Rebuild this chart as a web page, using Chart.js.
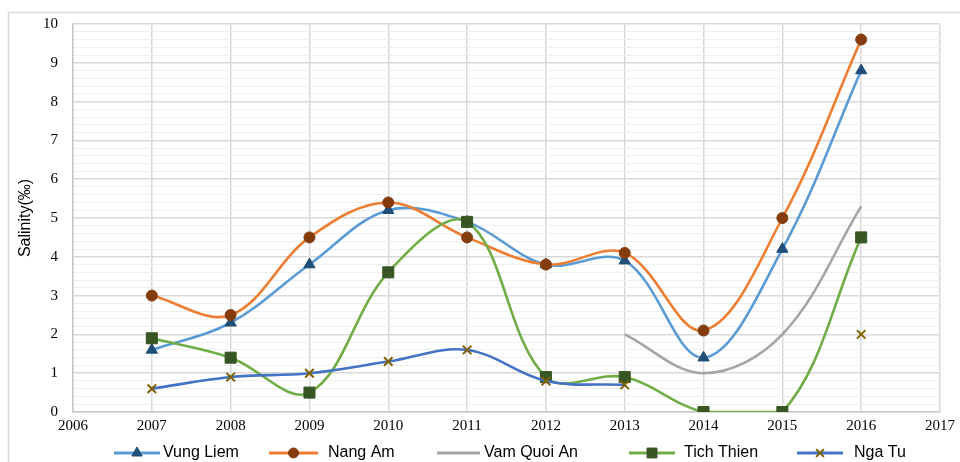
<!DOCTYPE html>
<html>
<head>
<meta charset="utf-8">
<script src="https://cdn.jsdelivr.net/npm/chart.js@4.4.1/dist/chart.umd.min.js"></script>
<style>
  html, body { margin: 0; padding: 0; background: #ffffff; }
  #wrap { width: 960px; height: 462px; position: relative; }
</style>
</head>
<body>
<div id="wrap"><canvas id="c" width="960" height="462"></canvas></div>
<script>
const years = [2007, 2008, 2009, 2010, 2011, 2012, 2013, 2014, 2015, 2016];
const vungLiem  = [1.6, 2.3, 3.8, 5.2, 4.9, 3.8, 3.9, 1.4, 4.2, 8.8];
const nangAm    = [3.0, 2.5, 4.5, 5.4, 4.5, 3.8, 4.1, 2.1, 5.0, 9.6];
const vamQuoiAn = [null, null, null, null, null, null, 2.0, 1.0, 2.0, 5.3];
const tichThien = [1.9, 1.4, 0.5, 3.6, 4.9, 0.9, 0.9, 0.0, 0.0, 4.5];
const ngaTu     = [0.6, 0.9, 1.0, 1.3, 1.6, 0.8, 0.7, null, null, 2.0];
const seriesNames = ['Vung Liem', 'Nang Am', 'Vam Quoi An', 'Tich Thien', 'Nga Tu'];
const xMin = 2006, xMax = 2017;
const yMin = 0, yMax = 10;
const yTitle = 'Salinity(\u2030)';

function pts(vals) { return years.map((y, i) => ({ x: y, y: vals[i] })); }

const styles = [
  { line: '#5B9BD5', mark: '#1F4E79', style: 'triangle', r: 6.5, lr: 6 },
  { line: '#ED7D31', mark: '#843C0C', style: 'circle', r: 5.5, lr: 5 },
  { line: '#A5A5A5', mark: '#A5A5A5', style: false, r: 0, lr: 0 },
  { line: '#70AD47', mark: '#375623', style: 'rect', r: 7.8, lr: 7 },
  { line: '#4472C4', mark: '#7F6000', style: 'crossRot', r: 6, lr: 5.5 }
];
const allVals = [vungLiem, nangAm, vamQuoiAn, tichThien, ngaTu];

const datasets = allVals.map((v, i) => ({
  label: seriesNames[i],
  data: pts(v),
  borderColor: styles[i].line,
  backgroundColor: styles[i].mark,
  borderWidth: 2.6,
  tension: 0.36,
  spanGaps: false,
  pointStyle: styles[i].style || 'circle',
  pointRadius: styles[i].style ? styles[i].r : 0,
  pointHoverRadius: styles[i].style ? styles[i].r : 0,
  pointBackgroundColor: styles[i].mark,
  pointBorderColor: styles[i].mark,
  pointBorderWidth: styles[i].style === 'crossRot' ? 2 : 1,
  order: 5 - i
}));

const frame = {
  id: 'frame',
  beforeDraw(chart) {
    const ctx = chart.ctx;
    ctx.save();
    ctx.fillStyle = '#ffffff';
    ctx.fillRect(0, 0, chart.width, chart.height);
    ctx.strokeStyle = '#d9d9d9';
    ctx.lineWidth = 1.5;
    ctx.strokeRect(8.5, 12.5, chart.width + 10, chart.height + 10);
    ctx.restore();
  }
};

const legendPos = [
  { x0: 114, x1: 160, tx: 163 },
  { x0: 269, x1: 318, tx: 328 },
  { x0: 437, x1: 480, tx: 484 },
  { x0: 629, x1: 675, tx: 684 },
  { x0: 797, x1: 843, tx: 854 }
];

const customLegend = {
  id: 'customLegend',
  afterDraw(chart) {
    const ctx = chart.ctx;
    const y = 453;
    ctx.save();
    seriesNames.forEach((name, i) => {
      const p = legendPos[i], s = styles[i];
      ctx.strokeStyle = s.line;
      ctx.lineWidth = 3;
      ctx.beginPath();
      ctx.moveTo(p.x0, y);
      ctx.lineTo(p.x1, y);
      ctx.stroke();
      if (s.style) {
        ctx.fillStyle = s.mark;
        ctx.strokeStyle = s.mark;
        ctx.lineWidth = s.style === 'crossRot' ? 2 : 1;
        Chart.helpers.drawPoint(ctx, {
          pointStyle: s.style, radius: s.lr, borderWidth: ctx.lineWidth, rotation: 0
        }, (p.x0 + p.x1) / 2, y);
      }
      ctx.fillStyle = '#000000';
      ctx.font = '16px "Liberation Sans", Arial, sans-serif';
      ctx.textBaseline = 'middle';
      ctx.textAlign = 'left';
      ctx.fillText(name, p.tx, y);
    });
    ctx.restore();
  }
};

function isInt(v) { return Math.abs(v - Math.round(v)) < 1e-6; }

new Chart(document.getElementById('c'), {
  type: 'line',
  data: { datasets },
  plugins: [frame, customLegend],
  options: {
    responsive: false,
    animation: false,
    devicePixelRatio: 1,
    layout: { padding: { left: 14, right: 14, top: 18, bottom: 20 } },
    plugins: { legend: { display: false }, tooltip: { enabled: false } },
    scales: {
      x: {
        type: 'linear',
        min: xMin, max: xMax,
        ticks: {
          stepSize: 1,
          color: '#000000',
          font: { family: '"Liberation Serif", "Times New Roman", serif', size: 15 },
          callback: v => String(v),
          padding: 5
        },
        grid: { color: '#d9d9d9', lineWidth: 1.5, drawTicks: false },
        border: { color: '#c8c8c8', width: 1.5 },
        afterFit: s => { s.height = 30; }
      },
      y: {
        min: yMin, max: yMax,
        ticks: {
          stepSize: 0.2,
          maxTicksLimit: 100,
          autoSkip: false,
          color: '#000000',
          font: { family: '"Liberation Serif", "Times New Roman", serif', size: 15 },
          callback: v => isInt(v) ? String(Math.round(v)) : '',
          padding: 15
        },
        grid: {
          color: c => isInt(c.tick.value) ? '#d9d9d9' : '#efefef',
          lineWidth: c => isInt(c.tick.value) ? 1.5 : 1,
          drawTicks: false
        },
        border: { color: '#c8c8c8', width: 1.5 },
        title: {
          display: true,
          text: yTitle,
          color: '#000000',
          font: { family: '"Liberation Sans", Arial, sans-serif', size: 16 },
          padding: 2
        },
        afterFit: s => { s.width = 59; }
      }
    }
  }
});
</script>
</body>
</html>
